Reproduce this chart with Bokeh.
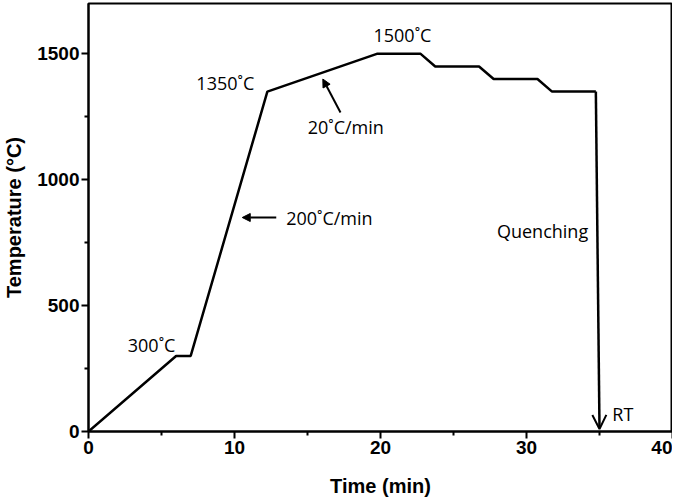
from bokeh.plotting import figure
from bokeh.models import FixedTicker, Arrow, NormalHead, OpenHead, Range1d
from bokeh.core.properties import value
from bokeh.embed import file_html
from bokeh.resources import INLINE

# Heating profile
time_min = [0, 6, 7, 12.25, 19.75, 22.75, 23.75, 26.75, 27.75, 30.75, 31.75, 34.75]
temp_c = [0, 300, 300, 1350, 1500, 1500, 1450, 1450, 1400, 1400, 1350, 1350]
# Quench drop (start -> end)
quench_x = [34.75, 35.0]
quench_y = [1350, 10]

# Annotations
label_text = ["300˚C", "1350˚C", "1500˚C", "20˚C/min", "200˚C/min", "Quenching", "RT"]
label_x = [4.32, 9.37, 21.5, 17.62, 16.5, 31.1, 36.6]
label_y = [345, 1386, 1574, 1210, 850, 798, 70]

# Rate arrows (start x, start y, end x, end y)
arrow_x0 = [17.26, 12.86]
arrow_y0 = [1267, 850]
arrow_x1 = [16.05, 10.53]
arrow_y1 = [1400, 850]

x_ticks = [0, 10, 20, 30, 40]
x_minor = [5, 15, 25, 35]
y_ticks = [0, 500, 1000, 1500]
y_minor = [250, 750, 1250]

p = figure(frame_width=584, frame_height=428, x_range=Range1d(0, 40), y_range=Range1d(0, 1700),
           output_backend="svg", toolbar_location=None,
           min_border_left=83, min_border_right=0, min_border_top=3, min_border_bottom=0)

p.xgrid.visible = False
p.ygrid.visible = False
p.outline_line_color = "black"
p.outline_line_width = 2
p.outline_line_alpha = 1
p.background_fill_color = "white"
p.border_fill_color = "white"

p.xaxis.ticker = FixedTicker(ticks=x_ticks, minor_ticks=x_minor)
p.yaxis.ticker = FixedTicker(ticks=y_ticks, minor_ticks=y_minor)
p.xaxis.axis_label = "Time (min)"
p.yaxis.axis_label = "Temperature (°C)"

for ax in (p.xaxis[0], p.yaxis[0]):
    ax.axis_line_width = 2
    ax.axis_line_color = "black"
    ax.major_tick_line_width = 2
    ax.minor_tick_line_width = 2
    ax.major_tick_line_color = "black"
    ax.minor_tick_line_color = "black"
    ax.major_tick_out = 7
    ax.major_tick_in = 0
    ax.minor_tick_out = 4
    ax.minor_tick_in = 0
    ax.major_label_text_font = "Liberation Sans"
    ax.major_label_text_font_style = "bold"
    ax.major_label_text_font_size = "19px"
    ax.major_label_text_color = "black"
    ax.major_label_standoff = 2
    ax.axis_label_text_font = "Liberation Sans"
    ax.axis_label_text_font_style = "bold"
    ax.axis_label_text_font_size = "20px"
    ax.axis_label_text_color = "black"

p.xaxis.axis_label_standoff = 18
p.yaxis.axis_label_standoff = 9

p.line(time_min, temp_c, line_color="black", line_width=2.5)

p.add_layout(Arrow(end=OpenHead(size=14, line_width=2, line_color="black"),
                   x_start=quench_x[0], y_start=quench_y[0],
                   x_end=quench_x[1], y_end=quench_y[1],
                   line_color="black", line_width=2.5))

for i in range(len(arrow_x0)):
    p.add_layout(Arrow(end=NormalHead(size=8, fill_color="black", line_color="black"),
                       x_start=arrow_x0[i], y_start=arrow_y0[i],
                       x_end=arrow_x1[i], y_end=arrow_y1[i],
                       line_color="black", line_width=2))

p.text(x=label_x, y=label_y, text=label_text, text_font=value("Open Sans"),
       text_font_size="18px", text_align="center", text_baseline="middle",
       text_color="black")

open("out.html", "w").write(file_html(p, INLINE))
